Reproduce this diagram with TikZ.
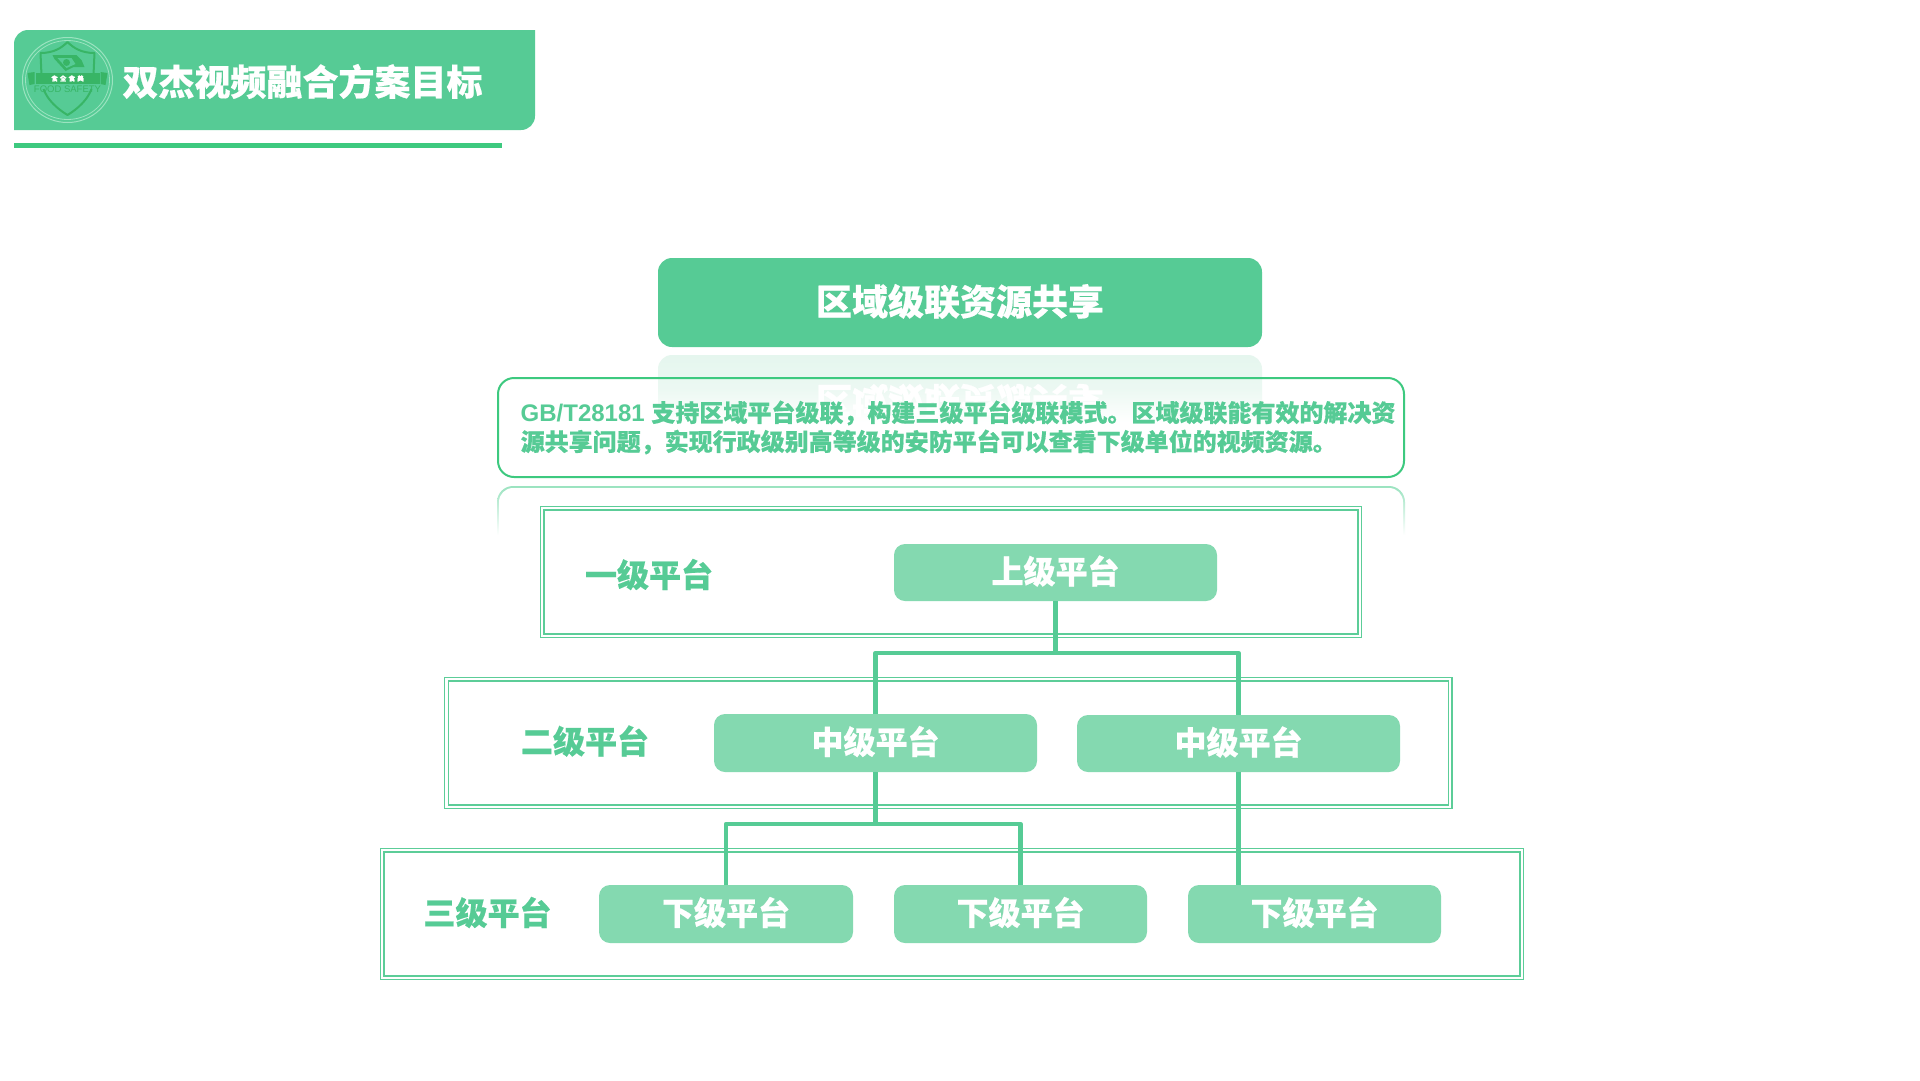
\documentclass[tikz,border=0pt]{standalone}
\usepackage{fontspec}
\setmainfont{Liberation Sans}
\newfontfamily\cjk{Noto Sans CJK SC}[BoldFeatures={FakeBold=0.5}]
\definecolor{gmain}{HTML}{56CB95}
\definecolor{gline}{HTML}{3DC97F}
\definecolor{gnode}{HTML}{84D9B0}
\definecolor{gframe}{HTML}{5CCD98}
\definecolor{gpale}{HTML}{E5F6EE}
\definecolor{gshield}{HTML}{38B566}
\definecolor{gring}{HTML}{9BE3C0}
\tikzset{
  titletext/.style={font=\cjk\bfseries\fontsize{36}{36}\selectfont,inner sep=0pt,outer sep=0pt},
  mainbox/.style={fill=gmain,rounded corners=14pt,minimum width=604pt,minimum height=89pt,text=white,titletext},
  descbox/.style={draw=gline,line width=2pt,rounded corners=16pt,minimum width=906pt,minimum height=99pt,outer sep=0pt,inner sep=0pt},
  levelframe/.style={draw=gframe,line width=1.2pt,double=white,double distance=2.2pt,outer sep=0pt,inner sep=0pt},
  levellabel/.style={font=\cjk\bfseries\fontsize{32}{32}\selectfont,text=gmain,inner sep=0pt},
  platform/.style={fill=gnode,rounded corners=11pt,text=white,font=\cjk\bfseries\fontsize{32}{32}\selectfont,inner sep=0pt,outer sep=0pt,minimum height=58pt,text height=27pt,text depth=5pt},
  conn/.style={draw=gmain,line width=4.6pt,line join=round},
}
\begin{document}
\begin{tikzpicture}[x=1pt,y=-1pt]
\useasboundingbox (0,0) rectangle (1920,1080);
\fill[white] (0,0) rectangle (1920,1080);
% header
\fill[gmain] (14,130) [rounded corners=14pt] -- (14,30) [sharp corners] -- (535,30) [rounded corners=14pt] -- (535,130) [sharp corners] -- cycle;
\fill[gline] (14,142.5) rectangle (502,148);
% logo
\begin{scope}[shift={(67.5,80)}]
  \draw[gring,line width=1pt] (0,0) ellipse [x radius=45,y radius=42.5];
  \draw[gring,line width=.8pt] (0,0) ellipse [x radius=42,y radius=39.5];
  \draw[gshield,line width=2pt,line join=round] (-26,-5) -- (-27,-27) .. controls (-14,-27) and (-6,-32) .. (0,-38) .. controls (6,-32) and (14,-27) .. (27,-27) -- (26,-5);
  \draw[gshield,line width=2pt,line join=round] (-24,9) .. controls (-20,20) and (-10,29) .. (0,35) .. controls (10,29) and (20,20) .. (24,9);
  \fill[gshield] (-15,-25) -- (9,-25) -- (14,-20) -- (17,-13) -- (6,-13) -- (-2,-9) -- (-13,-21) -- cycle;
  \fill[gmain] (-10,-22) -- (4,-22) -- (8,-16) -- (-1,-12) -- cycle;
  \fill[gshield] (-1,-17.5) circle [radius=3.5];
  \fill[gshield] (-40,-7) -- (-33,-8) -- (-33,4) -- (-38,5) -- cycle;
  \fill[gshield] (40,-7) -- (33,-8) -- (33,4) -- (38,5) -- cycle;
  \fill[gshield] (-32,-7) rectangle (32,4);
  \node[text=white,inner sep=0pt,font=\cjk\bfseries\fontsize{6.5}{7}\selectfont] (logotext) at (0,-1.5) {食\,\,全\,\,食\,\,美};
  \node[text=gshield,inner sep=0pt,font=\fontsize{9.5}{10}\selectfont] (logoen) at (0,9.5) {FOOD SAFETY};
\end{scope}
\node[titletext,text=white,anchor=center] (head) at (302.5,81.5) {双杰视频融合方案目标};
% reflection of the title bar
\shade[top color=gpale,bottom color=white,middle color=gpale!75!white] (658,422) [rounded corners=14pt] -- (658,355) -- (1262,355) -- (1262,422);
\node[titletext,text=white,transform shape,yscale=-1] (titleref) at (960,401) {区域级联资源共享};
% title
\node[mainbox] (title) at (960,302.5) {};
\node[titletext,text=white] (titletxt) at (960,301.5) {区域级联资源共享};
% description
\node[descbox] (desc) at (951,427.5) {};
\node[anchor=west,align=left,inner sep=0pt,text=gmain,font=\bfseries\fontsize{24}{29}\selectfont] (desctext) at (520.5,427.5)
  {GB/T28181 {\cjk 支持区域平台级联，构建三级平台级联模式。区域级联能有效的解决资}\\{\cjk 源共享问题，实现行政级别高等级的安防平台可以查看下级单位的视频资源。}};
% reflection of the description box
\shade[top color=gring,bottom color=white] (497,535) [rounded corners=16pt] -- (497,486) -- (1405,486) -- (1405,535);
\fill[white] (499,537) [rounded corners=14pt] -- (499,488) -- (1403,488) -- (1403,537);
% level frames
\node[levelframe,minimum width=817.4pt,minimum height=127.4pt] (lev1) at (951,572) {};
\node[levelframe,minimum width=1003.9pt,minimum height=127.4pt] (lev2) at (948.4,743) {};
\node[levelframe,minimum width=1139.4pt,minimum height=127.4pt] (lev3) at (952,914) {};
\node[levellabel] (lab1) at (649,574.5) {一级平台};
\node[levellabel] (lab2) at (585,741) {二级平台};
\node[levellabel] (lab3) at (487.5,912.5) {三级平台};
% platforms
\coordinate (busa) at (1056,653);
\coordinate (busb) at (876,824);
\node[platform,minimum width=323pt,minimum height=57pt] (top) at (1055.5,572.5) {上级平台};
\node[platform,minimum width=323pt] (mida) at (875.5,743) {中级平台};
\node[platform,minimum width=323pt,minimum height=57pt] (midb) at (1238.5,743.5) {中级平台};
\node[platform,minimum width=254pt] (lowa) at (726,914) {下级平台};
\node[platform,minimum width=253pt] (lowb) at (1020.5,914) {下级平台};
\node[platform,minimum width=253pt] (lowc) at (1314.5,914) {下级平台};
% connectors
\draw[conn] (top.south) -- (top.south |- busa);
\draw[conn] (mida.north) -- (mida.north |- busa) -- (midb.north |- busa) -- (midb.north);
\draw[conn] (mida.south) -- (mida.south |- busb);
\draw[conn] (lowa.north) -- (lowa.north |- busb) -- (lowb.north |- busb) -- (lowb.north);
\draw[conn] (midb.south) -- (midb.south |- lowc.north);
\end{tikzpicture}
\end{document}
